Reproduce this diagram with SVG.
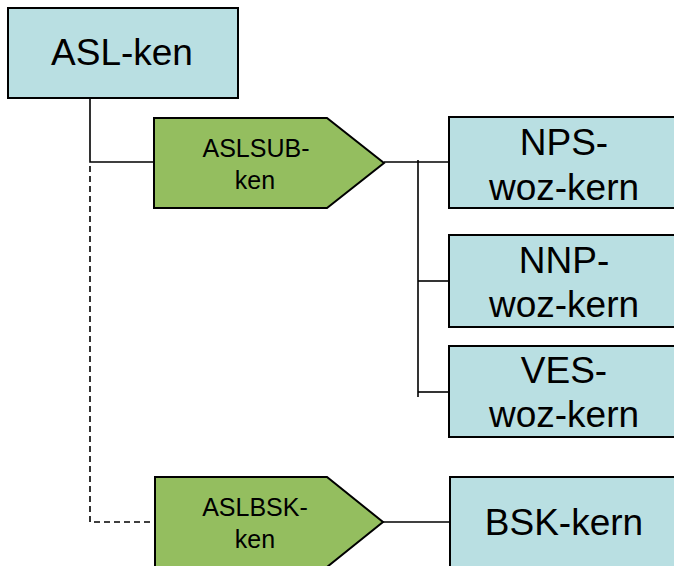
<svg xmlns="http://www.w3.org/2000/svg" width="674" height="566" viewBox="0 0 674 566">
<style>
.box{fill:#B9DFE2;stroke:#000;stroke-width:2}
.pent{fill:#94BE5F;stroke:#000;stroke-width:2}
.big{font-family:"Liberation Sans",Arial,sans-serif;font-size:37px;fill:#000;text-anchor:middle}
.small{font-family:"Liberation Sans",Arial,sans-serif;font-size:25px;fill:#000;text-anchor:middle}
.ln{fill:none;stroke:#000;stroke-width:1.6}
.dash{fill:none;stroke:#000;stroke-width:1.6;stroke-dasharray:6,4}
</style>
<rect width="674" height="566" fill="#fff"/>
<g id="connectors">
<path class="ln" d="M90,99 V162 H155"/>
<path class="dash" d="M90,166 V522 H155"/>
<path class="ln" d="M384,162 H449"/>
<path class="ln" d="M418,160 V397"/>
<path class="ln" d="M418,281 H449"/>
<path class="ln" d="M418,392 H449"/>
<path class="ln" d="M383,522 H450"/>
</g>
<g id="asl-ken">
<rect class="box" x="8" y="8" width="230" height="90"/>
<text class="big" x="122" y="65">ASL-ken</text>
</g>
<g id="aslsub-ken">
<polygon class="pent" points="154,118 327,118 384,163 327,208 154,208"/>
<text class="small" x="256" y="157">ASLSUB-</text>
<text class="small" x="255" y="189">ken</text>
</g>
<g id="nps-woz-kern">
<rect class="box" x="449" y="117" width="240" height="91"/>
<text class="big" x="564" y="155">NPS-</text>
<text class="big" x="564" y="200">woz-kern</text>
</g>
<g id="nnp-woz-kern">
<rect class="box" x="449" y="235" width="240" height="92"/>
<text class="big" x="564" y="273">NNP-</text>
<text class="big" x="564" y="317">woz-kern</text>
</g>
<g id="ves-woz-kern">
<rect class="box" x="449" y="346" width="240" height="91"/>
<text class="big" x="564" y="383">VES-</text>
<text class="big" x="564" y="427">woz-kern</text>
</g>
<g id="aslbsk-ken">
<polygon class="pent" points="155,477 327,477 383,522 327,567 155,567"/>
<text class="small" x="255" y="516">ASLBSK-</text>
<text class="small" x="255" y="548">ken</text>
</g>
<g id="bsk-kern">
<rect class="box" x="450" y="477" width="240" height="100"/>
<text class="big" x="564" y="535">BSK-kern</text>
</g>
</svg>
